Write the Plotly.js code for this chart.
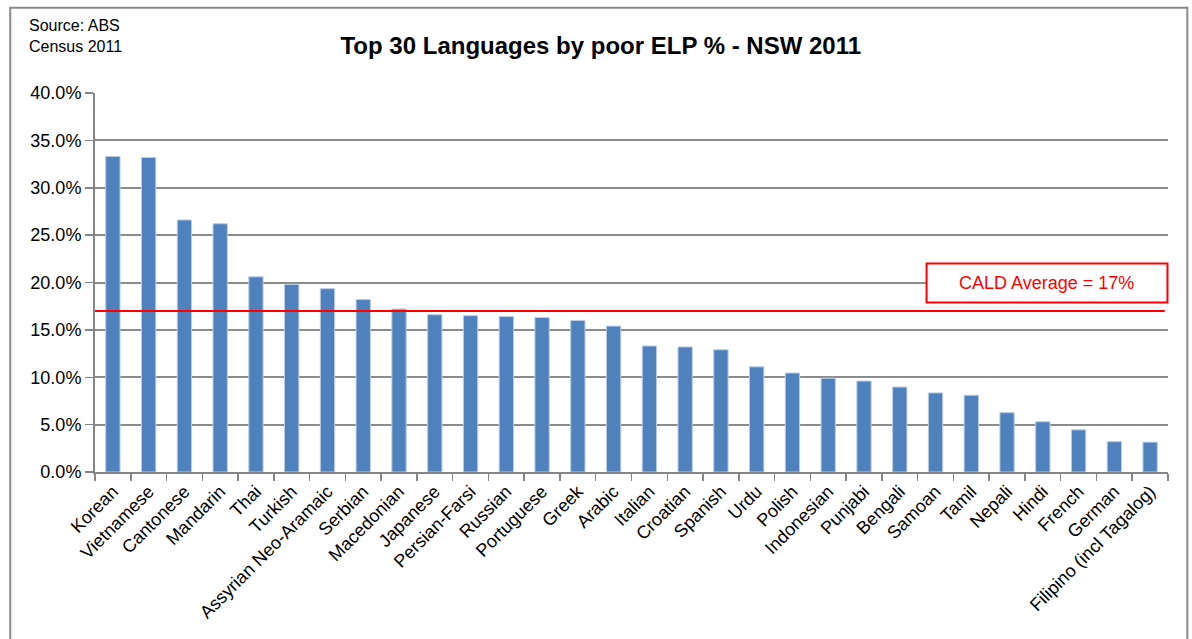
<!DOCTYPE html>
<html>
<head>
<meta charset="utf-8">
<script src="https://cdn.plot.ly/plotly-3.0.1.min.js"></script>
<style>html,body{margin:0;padding:0;background:#fff;}#chart{width:1192px;height:639px;}</style>
</head>
<body>
<div id="chart"></div>
<script>
const languages = ["Korean","Vietnamese","Cantonese","Mandarin","Thai","Turkish","Assyrian Neo-Aramaic","Serbian","Macedonian","Japanese","Persian-Farsi","Russian","Portuguese","Greek","Arabic","Italian","Croatian","Spanish","Urdu","Polish","Indonesian","Punjabi","Bengali","Samoan","Tamil","Nepali","Hindi","French","German","Filipino (incl Tagalog)"];
const poorElpPct = [33.3,33.2,26.6,26.2,20.6,19.8,19.35,18.2,17.2,16.6,16.5,16.4,16.3,16.0,15.4,13.3,13.2,12.9,11.1,10.45,9.9,9.6,8.97,8.35,8.1,6.26,5.3,4.45,3.2,3.15];
const caldAverage = 17;
const yTicks = [0,5,10,15,20,25,30,35,40];

const FONT = "Liberation Sans Narrow, Arial Narrow, Liberation Sans, Arial, sans-serif";

const trace = {
  type: "bar",
  x: languages,
  y: poorElpPct,
  marker: {color: "#4F81BD", line: {color: "#b9cde6", width: 1}},
  hoverinfo: "x+y"
};

const layout = {
  width: 1192, height: 639,
  margin: {l: 95, r: 24, t: 93, b: 167},
  paper_bgcolor: "#ffffff",
  plot_bgcolor: "#ffffff",
  bargap: 0.6,
  showlegend: false,
  font: {family: FONT, size: 18, color: "#000"},
  title: {text: "<b>Top 30 Languages by poor ELP % - NSW 2011</b>", x: 0.504, xanchor: "center", y: 0.929, yanchor: "middle",
          font: {family: "Liberation Sans, Arial, sans-serif", size: 24, color: "#000"}},
  xaxis: {
    type: "category",
    tickangle: -45,
    showgrid: false,
    showline: true, linecolor: "#868686", linewidth: 2,
    ticks: "outside", ticklen: 7, tickcolor: "#868686", tickwidth: 1.5,
    tickson: "boundaries",
    tickfont: {family: FONT, size: 18, color: "#000"},
    fixedrange: true
  },
  yaxis: {
    range: [0, 40],
    tickvals: yTicks,
    ticktext: yTicks.map(v => v.toFixed(1) + "%"),
    showgrid: true, gridcolor: "#8c8c8c", gridwidth: 2,
    showline: true, linecolor: "#868686", linewidth: 2,
    ticks: "outside", ticklen: 8, tickcolor: "#868686", tickwidth: 1.5,
    zeroline: false,
    tickfont: {family: FONT, size: 18, color: "#000"},
    fixedrange: true
  },
  shapes: [
    {type: "rect", xref: "paper", yref: "paper", x0: -0.079, x1: 1.018, y0: -0.46, y1: 1.225,
     line: {color: "#8a8a8a", width: 2}, fillcolor: "rgba(0,0,0,0)", layer: "below"},
    {type: "line", xref: "paper", yref: "y", x0: 0, x1: 0.997, y0: caldAverage, y1: caldAverage,
     line: {color: "#ff0000", width: 2}},
    {type: "rect", xref: "paper", yref: "y", x0: 0.775, x1: 0.9995, y0: 17.9, y1: 22.0,
     line: {color: "#ff0000", width: 2}, fillcolor: "#ffffff"}
  ],
  annotations: [
    {xref: "paper", yref: "y", x: 0.887, y: 19.95, text: "CALD Average = " + caldAverage + "%", showarrow: false,
     font: {family: FONT, size: 18, color: "#ff0000"}, xanchor: "center", yanchor: "middle"},
    {xref: "paper", yref: "paper", x: -0.063, y: 1.205, text: "Source: ABS<br>Census 2011", showarrow: false, align: "left",
     xanchor: "left", yanchor: "top", font: {family: FONT, size: 16, color: "#000"}}
  ]
};

Plotly.newPlot("chart", [trace], layout, {displayModeBar: false, staticPlot: true});
</script>
</body>
</html>
